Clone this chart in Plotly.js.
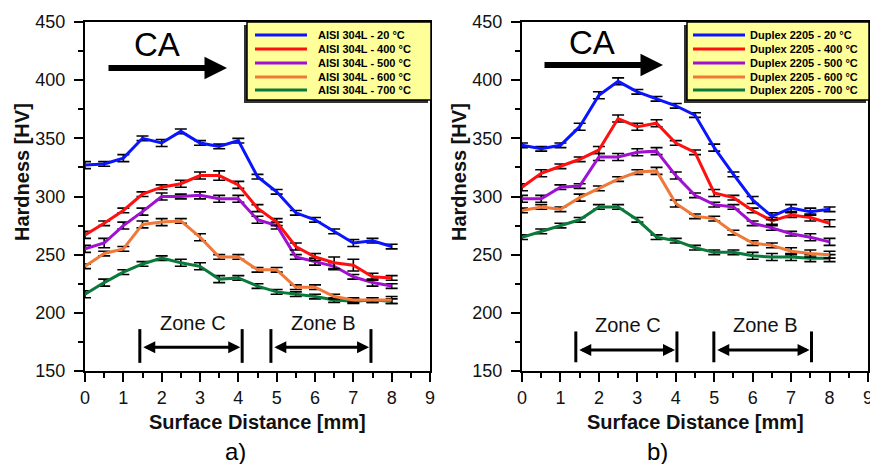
<!DOCTYPE html>
<html>
<head>
<meta charset="utf-8">
<script src="https://cdn.plot.ly/plotly-3.0.1.min.js"></script>
<style>html,body{margin:0;padding:0;background:#fff;}#chart{width:870px;height:464px;}</style>
</head>
<body>
<div id="chart"></div>
<script>
// ---------- data ----------
const distance = [0, 0.5, 1, 1.5, 2, 2.5, 3, 3.5, 4, 4.5, 5, 5.5, 6, 6.5, 7, 7.5, 8];
const temperatures = ['20', '400', '500', '600', '700'];
const seriesColors = ['#0a14ff', '#ff1010', '#a010d0', '#f07838', '#0a7a3a'];

// AISI 304L (panel a)
const aisi20  = [327, 328, 333, 350, 346, 356, 346, 343, 348, 317, 304, 286, 280, 270, 260, 262, 257];
const aisi400 = [267, 277, 288, 302, 308, 311, 318, 318, 310, 290, 278, 257, 248, 243, 241, 231, 230];
const aisi500 = [255, 260, 275, 287, 300, 300, 301, 298, 298, 280, 275, 248, 244, 240, 231, 226, 223];
const aisi600 = [240, 251, 255, 276, 278, 279, 265, 248, 248, 237, 237, 222, 222, 214, 211, 211, 211];
const aisi700 = [216, 226, 235, 242, 247, 243, 240, 229, 230, 223, 218, 216, 214, 211, 210, 211, 210];
const aisi20Err  = [3, 2, 3, 2, 3, 2, 2, 2, 2, 2, 2, 2, 2, 2, 3, 2, 2];
const aisi400Err = [3, 2, 2, 2, 2, 3, 3, 4, 3, 3, 3, 3, 3, 5, 5, 3, 2];
const aisi500Err = [3, 4, 3, 3, 3, 2, 3, 3, 3, 3, 3, 2, 3, 3, 2, 3, 2];
const aisi600Err = [2, 2, 2, 3, 3, 2, 3, 2, 2, 2, 2, 2, 2, 2, 2, 2, 3];
const aisi700Err = [3, 3, 2, 2, 2, 3, 3, 3, 2, 2, 2, 2, 2, 2, 2, 2, 2];

// Duplex 2205 (panel b)
const dup20  = [344, 341, 344, 360, 387, 399, 390, 384, 378, 370, 342, 319, 297, 283, 290, 287, 289];
const dup400 = [308, 320, 326, 332, 340, 367, 360, 363, 346, 338, 303, 299, 288, 279, 284, 282, 277];
const dup500 = [298, 298, 308, 309, 334, 334, 338, 339, 318, 301, 293, 291, 277, 273, 268, 265, 261];
const dup600 = [288, 291, 289, 299, 307, 315, 321, 322, 294, 283, 281, 269, 260, 258, 253, 251, 250];
const dup700 = [265, 270, 275, 280, 291, 291, 280, 265, 262, 256, 252, 252, 249, 248, 248, 247, 247];
const dup20Err  = [2, 2, 2, 3, 3, 3, 2, 2, 2, 2, 3, 2, 3, 3, 3, 3, 2];
const dup400Err = [3, 3, 2, 2, 3, 3, 3, 3, 2, 2, 3, 2, 2, 3, 2, 3, 3];
const dup500Err = [3, 3, 2, 2, 3, 3, 3, 3, 3, 2, 2, 2, 2, 2, 2, 3, 3];
const dup600Err = [2, 2, 2, 3, 2, 2, 2, 3, 3, 2, 2, 2, 2, 2, 3, 3, 3];
const dup700Err = [2, 2, 2, 2, 2, 2, 2, 2, 2, 2, 2, 2, 3, 3, 3, 3, 3];

const aisiSeries = [aisi20, aisi400, aisi500, aisi600, aisi700];
const aisiErrors = [aisi20Err, aisi400Err, aisi500Err, aisi600Err, aisi700Err];
const dupSeries = [dup20, dup400, dup500, dup600, dup700];
const dupErrors = [dup20Err, dup400Err, dup500Err, dup600Err, dup700Err];
const aisiNames = temperatures.map(t => 'AISI 304L - ' + t + ' °C');
const dupNames = temperatures.map(t => 'Duplex 2205 - ' + t + ' °C');

// ---------- helpers (figure pixel -> paper fraction) ----------
const W = 870, H = 464;
const PX = p => p / W;
const PY = p => 1 - p / H;
const FONT = 'Arial, "Liberation Sans", sans-serif';

const traces = [];
function addPanel(series, errors, names, xa, ya) {
  for (let i = series.length - 1; i >= 0; i--) {
    traces.push({
      type: 'scatter', mode: 'lines',
      x: distance, y: series[i], name: names[i],
      xaxis: xa, yaxis: ya, showlegend: false,
      line: {color: seriesColors[i], width: 3},
      error_y: {type: 'data', array: errors[i], visible: true, color: '#000', thickness: 1.6, width: 6}
    });
  }
}
addPanel(aisiSeries, aisiErrors, aisiNames, 'x', 'y');
addPanel(dupSeries, dupErrors, dupNames, 'x2', 'y2');

function xAxis(domain, anchor) {
  return {
    domain: domain, anchor: anchor, range: [0, 9], tick0: 0, dtick: 1,
    ticks: 'outside', ticklen: 9, tickwidth: 2, tickcolor: '#000',
    minor: {dtick: 0.5, ticks: 'outside', ticklen: 5, tickwidth: 2, tickcolor: '#000'},
    showline: true, linewidth: 2, linecolor: '#000', mirror: true,
    showgrid: false, zeroline: false, ticklabeloverflow: 'allow',
    tickfont: {family: FONT, size: 18, color: '#111'}
  };
}
function yAxis(domain, anchor) {
  return {
    domain: domain, anchor: anchor, range: [150, 450], tick0: 150, dtick: 50,
    ticks: 'outside', ticklen: 9, tickwidth: 2, tickcolor: '#000',
    minor: {dtick: 25, ticks: 'outside', ticklen: 5, tickwidth: 2, tickcolor: '#000'},
    showline: true, linewidth: 2, linecolor: '#000', mirror: true,
    showgrid: false, zeroline: false, ticklabelstandoff: 5,
    tickfont: {family: FONT, size: 18, color: '#111'}
  };
}

const yDom = [PY(371), PY(22)];
const shapes = [];
const annotations = [];

function paperText(x, y, text, size, extra) {
  annotations.push(Object.assign({xref: 'paper', yref: 'paper', x: PX(x), y: PY(y), xanchor: 'center', yanchor: 'middle',
    text: text, showarrow: false, font: {family: FONT, size: size, color: '#111'}}, extra || {}));
}

// zone markers (data coordinates)
function zone(xr, yr, label, xl, xr2, ybar0, ybar1, yArrow, yText, xText) {
  [xl, xr2].forEach(xv => shapes.push({type: 'line', xref: xr, yref: yr, x0: xv, x1: xv, y0: ybar0, y1: ybar1, line: {color: '#000', width: 3}}));
  annotations.push({xref: xr, yref: yr, axref: xr, ayref: yr, x: xr2 - 0.05, y: yArrow, ax: xl + 0.05, ay: yArrow,
    text: '', showarrow: true, arrowhead: 2, startarrowhead: 2, arrowside: 'end+start',
    arrowwidth: 3, arrowsize: 0.8, startarrowsize: 0.8, arrowcolor: '#000', standoff: 0, startstandoff: 0});
  annotations.push({xref: xr, yref: yr, x: xText, y: yText, xanchor: 'center', yanchor: 'middle', text: label, showarrow: false,
    font: {family: FONT, size: 20, color: '#111'}});
}
zone('x', 'y', 'Zone C', 1.43, 4.10, 186, 157, 170.5, 191, 2.82);
zone('x', 'y', 'Zone B', 4.85, 7.46, 186, 157, 170.5, 191, 6.21);
zone('x2', 'y2', 'Zone C', 1.40, 4.03, 184, 157.5, 168, 189.5, 2.75);
zone('x2', 'y2', 'Zone B', 4.99, 7.53, 184, 157.5, 168, 189.5, 6.31);

// CA labels and arrows
[[157, 45, 107, 227, 68], [592, 42, 543, 663, 65]].forEach(([cx, cy, x0, x1, ay]) => {
  paperText(cx, cy, 'CA', 33, {font: {family: FONT, size: 33, color: '#000'}});
  annotations.push({xref: 'paper', yref: 'paper', x: PX(x1), y: PY(ay), ax: -(x1 - x0), ay: 0,
    text: '', showarrow: true, arrowhead: 2, arrowwidth: 6, arrowsize: 0.75, arrowcolor: '#000', standoff: 0});
});

// manual legends
function legendBox(x0, x1, y0, y1, lineX0, lineX1, textX, rows, names) {
  shapes.push({type: 'rect', xref: 'paper', yref: 'paper', x0: PX(x0 - 3), x1: PX(x1 - 3), y0: PY(y1 + 3), y1: PY(y0 + 3),
    fillcolor: '#333', line: {width: 0}});
  shapes.push({type: 'rect', xref: 'paper', yref: 'paper', x0: PX(x0), x1: PX(x1), y0: PY(y1), y1: PY(y0),
    fillcolor: '#ffff99', line: {color: '#000', width: 1.5}});
  names.forEach((nm, i) => {
    shapes.push({type: 'line', xref: 'paper', yref: 'paper', x0: PX(lineX0), x1: PX(lineX1), y0: PY(rows[i]), y1: PY(rows[i]),
      line: {color: seriesColors[i], width: 3}});
    paperText(textX, rows[i], '<b>' + nm + '</b>', 11, {xanchor: 'left', font: {family: FONT, size: 11, color: '#000'}});
  });
}
const legendRows = [35, 49, 63, 77, 90];
legendBox(247, 431, 22, 100, 255, 307, 316, legendRows, aisiNames);
legendBox(687, 869, 22, 100, 693, 745, 748, legendRows, dupNames);

// axis titles and panel labels
[22, 459].forEach(x => paperText(x, 172, '<b>Hardness [HV]</b>', 20, {textangle: -90}));
[257, 695].forEach(x => paperText(x, 422, '<b>Surface Distance [mm]</b>', 20));
[[235, 'a)'], [657, 'b)']].forEach(([x, t]) => paperText(x, 451, t, 24, {font: {family: FONT, size: 24, color: '#000'}}));

const layout = {
  width: W, height: H,
  margin: {l: 0, r: 0, t: 0, b: 0},
  paper_bgcolor: '#fff', plot_bgcolor: '#fff',
  showlegend: false,
  xaxis: xAxis([PX(85), PX(430)], 'y'),
  yaxis: yAxis(yDom, 'x'),
  xaxis2: xAxis([PX(522), PX(868)], 'y2'),
  yaxis2: yAxis(yDom, 'x2'),
  shapes: shapes,
  annotations: annotations,
  font: {family: FONT}
};

Plotly.newPlot('chart', traces, layout, {staticPlot: true, displayModeBar: false});
</script>
</body>
</html>
